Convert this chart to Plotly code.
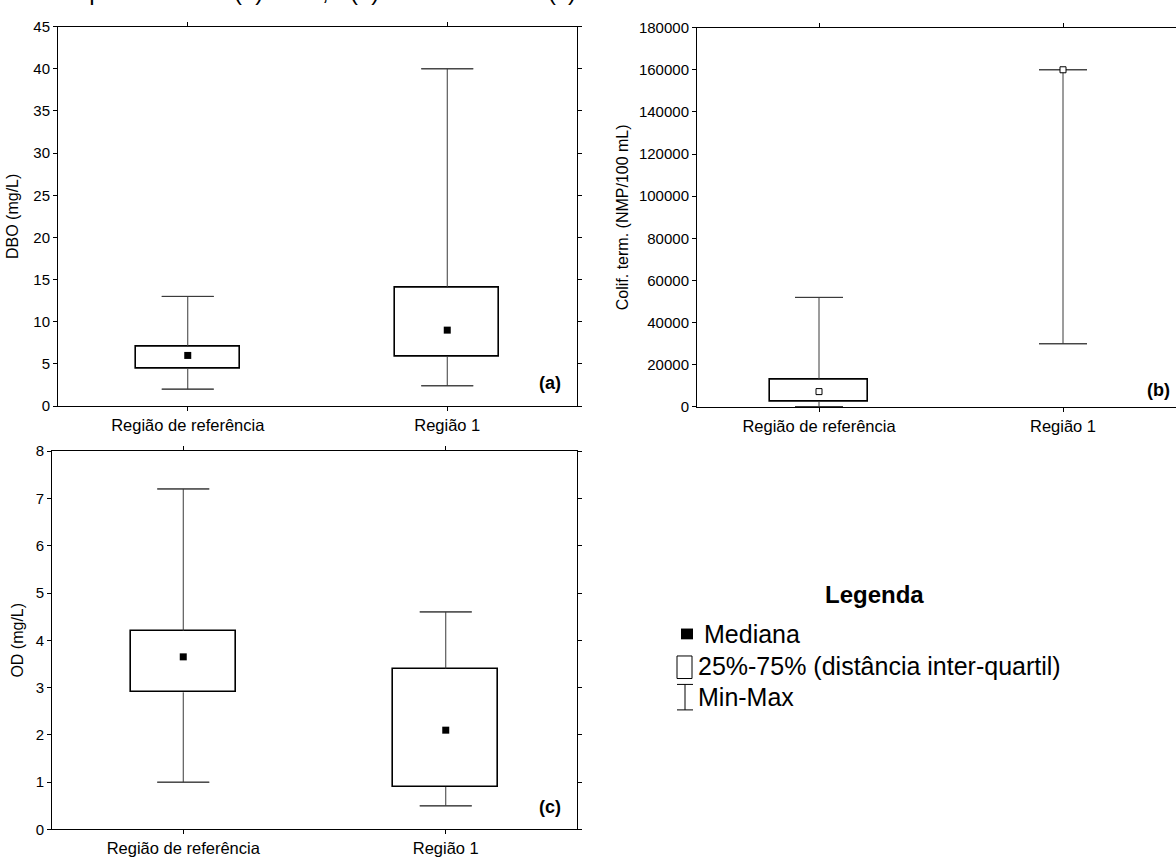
import plotly.graph_objects as go

W, H = 1176, 862

categories = ["Região de referência", "Região 1"]

# (a) DBO (mg/L)
dbo_min = [2.0, 2.4]
dbo_q1 = [4.4, 5.9]
dbo_med = [6.0, 9.0]
dbo_q3 = [7.0, 14.0]
dbo_max = [13.0, 40.0]

# (b) Coliformes termotolerantes (NMP/100 mL)
colif_min = [200, 30000]
colif_q1 = [2500, 160000]
colif_med = [7300, 160000]
colif_q3 = [13000, 160000]
colif_max = [52000, 160000]

# (c) OD (mg/L)
od_min = [1.0, 0.5]
od_q1 = [2.9, 0.9]
od_med = [3.65, 2.1]
od_q3 = [4.2, 3.4]
od_max = [7.2, 4.6]

FONT = "Liberation Sans, Arial, sans-serif"
WHISKER = "#3a3a3a"


def px(x):
    return x / W


def py(y):
    return 1 - y / H


fig = go.Figure()


def err_trace(xr, yr, y, up, down, width):
    return go.Scatter(
        x=categories, y=y, mode="markers", xaxis=xr, yaxis=yr,
        marker=dict(size=1, color="rgba(0,0,0,0)"), showlegend=False, hoverinfo="skip",
        error_y=dict(type="data", symmetric=False, array=up, arrayminus=down,
                     color=WHISKER, thickness=1, width=width))


def add_panel(xa, ya, mins, q1, med, q3, maxs, cap_px, hollow=False):
    xr = "x" + ("" if xa == 1 else str(xa))
    yr = "y" + ("" if ya == 1 else str(ya))
    zeros = [0] * len(categories)
    heights = [(b - a) if (b - a) > 0 else None for a, b in zip(q1, q3)]
    # whisker stems (no caps)
    fig.add_trace(err_trace(xr, yr, q1, zeros, [a - b for a, b in zip(q1, mins)], 0))
    fig.add_trace(err_trace(xr, yr, q3, [b - a for a, b in zip(q3, maxs)], zeros, 0))
    # whisker caps at min and max
    fig.add_trace(err_trace(xr, yr, mins, zeros, zeros, cap_px))
    fig.add_trace(err_trace(xr, yr, maxs, zeros, zeros, cap_px))
    # box (25%-75%)
    fig.add_trace(go.Bar(
        x=categories, y=heights, base=q1, width=0.4, xaxis=xr, yaxis=yr,
        marker=dict(color="white", line=dict(color="black", width=1.6)),
        showlegend=False, hoverinfo="skip"))
    # median
    fig.add_trace(go.Scatter(
        x=categories, y=med, mode="markers", xaxis=xr, yaxis=yr,
        marker=dict(symbol="square", size=7 if not hollow else 6,
                    color="white" if hollow else "black",
                    line=dict(color="black", width=1 if hollow else 0)),
        showlegend=False, hoverinfo="skip"))


add_panel(1, 1, dbo_min, dbo_q1, dbo_med, dbo_q3, dbo_max, 26)
add_panel(2, 2, colif_min, colif_q1, colif_med, colif_q3, colif_max, 24, hollow=True)
add_panel(3, 3, od_min, od_q1, od_med, od_q3, od_max, 26)

axis_common = dict(showline=True, linecolor="black", linewidth=1, ticks="outside",
                   ticklen=4, tickcolor="black", showgrid=False, zeroline=False)
xfont = dict(family=FONT, size=16.5, color="black")
yfont = dict(family=FONT, size=15, color="black")
tfont = dict(family=FONT, size=16, color="black")

b_right = -0.5 + (1176 - 697) / 244.0

fig.update_layout(
    width=W, height=H,
    margin=dict(l=0, r=0, t=0, b=0),
    paper_bgcolor="white", plot_bgcolor="white",
    font=dict(family=FONT, color="black"),
    bargap=0,
    xaxis=dict(domain=[px(58), px(577)], range=[-0.5, 1.5], mirror="ticks", anchor="y",
               tickfont=xfont, **axis_common),
    yaxis=dict(domain=[py(405), py(18)], range=[0, 45], dtick=5, mirror="ticks", anchor="x",
               tickfont=yfont, title=dict(text="DBO (mg/L)", font=tfont, standoff=10), **axis_common),
    xaxis2=dict(domain=[px(697), 1.0], range=[-0.5, b_right], mirror="ticks", anchor="y2",
                tickfont=xfont, **axis_common),
    yaxis2=dict(domain=[py(406), py(19)], range=[0, 180000], dtick=20000, tickformat="d", anchor="x2",
                tickfont=yfont, title=dict(text="Colif. term. (NMP/100 mL)", font=tfont, standoff=6),
                **axis_common),
    xaxis3=dict(domain=[px(52), px(577)], range=[-0.5, 1.5], mirror="ticks", anchor="y3",
                tickfont=xfont, **axis_common),
    yaxis3=dict(domain=[py(837), py(451)], range=[0, 8], dtick=1, mirror="ticks", anchor="x3",
                tickfont=yfont, title=dict(text="OD (mg/L)", font=tfont, standoff=8), **axis_common),
)

annotations = []
# title line (cut off at the top of the image, as in the reference)
for txt, x0 in [("Boxplots", 46), ("(a) DBO,", 232), ("(b) Colif. term. e", 348), ("(c) OD", 546)]:
    annotations.append(dict(text=txt, x=px(x0), y=py(-2), xref="paper", yref="paper",
                            xanchor="left", yanchor="bottom", showarrow=False,
                            font=dict(family=FONT, size=24, color="black")))
# panel letters
for txt, xr, yb in [("(a)", 563, 394), ("(b)", 1172, 401), ("(c)", 563, 826)]:
    annotations.append(dict(text="<b>%s</b>" % txt, x=px(xr), y=py(yb), xref="paper", yref="paper",
                            xanchor="right", yanchor="bottom", showarrow=False,
                            font=dict(family=FONT, size=18, color="black")))
# custom legend
annotations.append(dict(text="<b>Legenda</b>", x=px(874), y=py(597), xref="paper", yref="paper",
                        xanchor="center", yanchor="middle", showarrow=False,
                        font=dict(family=FONT, size=24, color="black")))
for txt, x0, yc in [("Mediana", 702, 638), ("25%-75% (distância inter-quartil)", 696, 670),
                    ("Min-Max", 696, 702)]:
    annotations.append(dict(text=txt, x=px(x0), y=py(yc), xref="paper", yref="paper",
                            xanchor="left", yanchor="middle", showarrow=False,
                            font=dict(family=FONT, size=25, color="black")))

shapes = [
    dict(type="rect", xref="paper", yref="paper", x0=px(681), x1=px(693), y0=py(643), y1=py(632),
         fillcolor="black", line=dict(width=0)),
    dict(type="rect", xref="paper", yref="paper", x0=px(677), x1=px(692), y0=py(683), y1=py(660),
         fillcolor="white", line=dict(color="black", width=1)),
    dict(type="line", xref="paper", yref="paper", x0=px(685), x1=px(685), y0=py(715), y1=py(689),
         line=dict(color="black", width=1)),
    dict(type="line", xref="paper", yref="paper", x0=px(677), x1=px(693), y0=py(689), y1=py(689),
         line=dict(color="black", width=1)),
    dict(type="line", xref="paper", yref="paper", x0=px(677), x1=px(693), y0=py(715), y1=py(715),
         line=dict(color="black", width=1)),
]

fig.update_layout(annotations=annotations, shapes=shapes)

fig.write_html("out.html")
